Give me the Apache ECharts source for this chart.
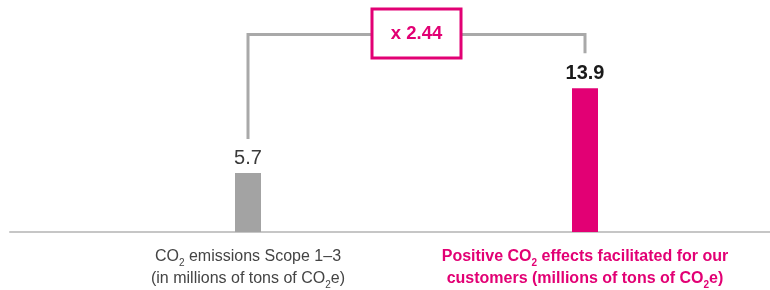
<!DOCTYPE html>
<html lang="en">
<head>
    <meta charset="UTF-8">
    <title>CO2 effects</title>
    <style>
        html, body { margin: 0; padding: 0; background: #fff; }
    </style>
</head>
<body>
<div id="main" style="width: 770px;height:290px;"></div>
</body>
<script src="https://cdn.jsdelivr.net/npm/echarts@6/dist/echarts.min.js"></script>
<script>

// data
const categories = [
    'CO₂ emissions Scope 1–3\n(in millions of tons of CO₂e)',
    'Positive CO₂ effects facilitated for our\ncustomers (millions of tons of CO₂e)'
]
const values = [5.7, 13.9]

const GRAY = '#a3a3a3'
const MAGENTA = '#e20074'
const FONT = 'Liberation Sans, Arial, sans-serif'

let chartDom = document.getElementById('main');
let myChart = echarts.init(chartDom);
let option;

// turn "₂" into rich subscript tokens
function richLabel(text, n, s) {
    return text.split('\n').map(line => {
        return line.split('₂').map(part => part ? '{' + n + '|' + part + '}' : '').join('{' + s + '|2}')
    }).join('\n')
}

let ratio = (values[1] / values[0]).toFixed(2)

option = {
    animation: false,
    grid: [
        {left: 79.5, right: 16.5, top: 25, bottom: 58},
        {left: 10, right: 0, top: 25, bottom: 58}
    ],
    xAxis: [
        {
            type: 'category',
            gridIndex: 0,
            data: categories,
            axisLine: {show: false},
            axisTick: {show: false},
            axisLabel: {
                interval: 0,
                margin: 14,
                formatter: function (v, i) {
                    return i === 1 ? richLabel(v, 'm', 't') : richLabel(v, 'n', 's')
                },
                rich: {
                    n: {fontSize: 16, lineHeight: 22, color: '#444', fontFamily: FONT},
                    s: {fontSize: 10, lineHeight: 14, color: '#444', fontFamily: FONT, verticalAlign: 'bottom'},
                    m: {fontSize: 16, lineHeight: 22, color: MAGENTA, fontWeight: 'bold', fontFamily: FONT},
                    t: {fontSize: 10, lineHeight: 14, color: MAGENTA, fontWeight: 'bold', fontFamily: FONT, verticalAlign: 'bottom'}
                }
            }
        },
        {
            type: 'value',
            gridIndex: 1,
            min: 0,
            max: 1,
            axisLine: {show: true, lineStyle: {color: '#c6c6c6', width: 2}},
            axisTick: {show: false},
            axisLabel: {show: false},
            splitLine: {show: false}
        }
    ],
    yAxis: [
        {type: 'value', gridIndex: 0, min: 0, max: 20, show: false},
        {type: 'value', gridIndex: 1, min: 0, max: 1, show: false}
    ],
    series: [
        {
            type: 'bar',
            xAxisIndex: 0,
            yAxisIndex: 0,
            barWidth: 26,
            data: values.map((v, i) => ({
                value: v,
                itemStyle: {color: i === 1 ? MAGENTA : GRAY},
                label: {
                    fontWeight: i === 1 ? 'bold' : 'normal',
                    color: i === 1 ? '#1a1a1a' : '#3a3a3a'
                }
            })),
            label: {
                show: true,
                position: 'top',
                distance: 5,
                fontSize: 20,
                fontFamily: FONT
            }
        },
        {
            type: 'custom',
            xAxisIndex: 0,
            yAxisIndex: 0,
            silent: true,
            z: 5,
            data: [[0, values[0]]],
            renderItem: function (params, api) {
                let a = api.coord([0, values[0]])
                let b = api.coord([1, values[1]])
                let top = 34.5
                let mid = (a[0] + b[0]) / 2
                return {
                    type: 'group',
                    children: [
                        {
                            type: 'polyline',
                            shape: {points: [[a[0], a[1] - 34], [a[0], top], [b[0], top], [b[0], b[1] - 35]]},
                            style: {stroke: '#a9a9a9', lineWidth: 3, fill: null}
                        },
                        {
                            type: 'rect',
                            shape: {x: mid - 44.5, y: 9, width: 89, height: 49},
                            style: {fill: '#fff', stroke: MAGENTA, lineWidth: 3}
                        },
                        {
                            type: 'text',
                            x: mid,
                            y: 34,
                            style: {
                                text: 'x ' + ratio,
                                fill: MAGENTA,
                                fontSize: 18.5,
                                fontWeight: 'bold',
                                fontFamily: FONT,
                                align: 'center',
                                verticalAlign: 'middle'
                            }
                        }
                    ]
                }
            }
        }
    ]
}
option && myChart.setOption(option);

</script>
</html>
